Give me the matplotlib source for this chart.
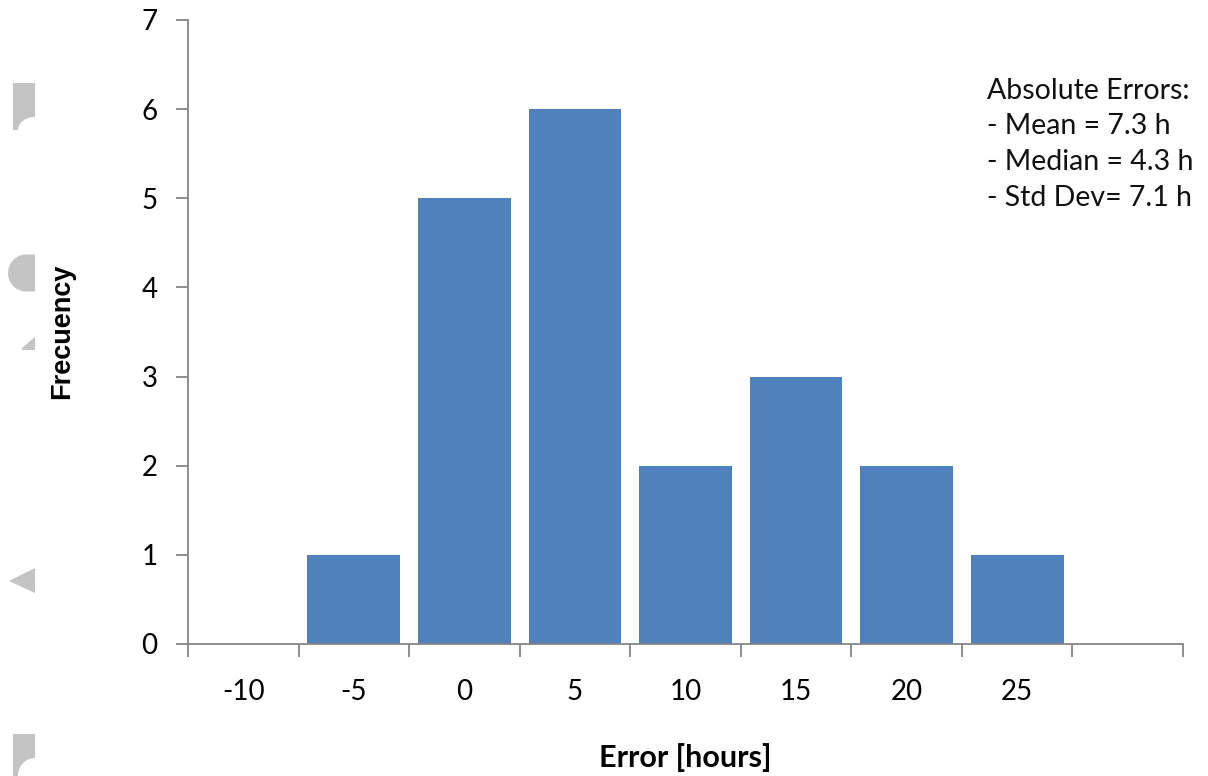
import numpy as np
import matplotlib
matplotlib.use("Agg")
import matplotlib.pyplot as plt
from matplotlib.patches import Polygon

# ---- data ----
categories = ["-10", "-5", "0", "5", "10", "15", "20", "25", ""]
frequency = [0, 1, 5, 6, 2, 3, 2, 1, 0]
y_ticks = [0, 1, 2, 3, 4, 5, 6, 7]
stats_lines = ["Absolute Errors:", "- Mean = 7.3 h", "- Median = 4.3 h", "- Std Dev= 7.1 h"]

W, H = 1208, 776
fig = plt.figure(figsize=(W / 100, H / 100), dpi=100)
fig.patch.set_facecolor("white")

def fx(px):
    return px / W

def fy(py):
    return 1 - py / H

ax = fig.add_axes([fx(188), fy(644), fx(1183) - fx(188), fy(20) - fy(644)])

axis_gray = "#868686"
bar_color = "#4F81BD"
font = "Lato"

x = np.arange(len(categories))
ax.bar(x, frequency, width=0.84, color=bar_color, zorder=2)

ax.set_xlim(-0.5, len(categories) - 0.5)
ax.set_ylim(0, 7)
ax.set_yticks(y_ticks)
ax.set_yticklabels([str(v) for v in y_ticks], fontfamily=font, fontsize=20)
ax.set_xticks(x)
ax.set_xticklabels(categories, fontfamily=font, fontsize=20)
ax.set_xticks(np.arange(-0.5, len(categories)), minor=True)

for s in ["top", "right"]:
    ax.spines[s].set_visible(False)
for s in ["left", "bottom"]:
    ax.spines[s].set_color(axis_gray)
    ax.spines[s].set_linewidth(1.3)

ax.tick_params(axis="y", direction="out", length=9, width=1.3, color=axis_gray, pad=13, labelcolor="black")
ax.tick_params(axis="x", which="major", length=0, pad=25, labelcolor="black")
ax.tick_params(axis="x", which="minor", direction="out", length=9, width=1.3, color=axis_gray)

# axis labels
fig.text(fx(62), fy(331), "Frecuency", rotation=90, ha="center", va="center",
         fontfamily="Liberation Sans", fontweight="bold", fontsize=19.5)
fig.text(fx(685), fy(758), "Error [hours]", ha="center", va="center",
         fontfamily=font, fontweight="bold", fontsize=22)

# stats annotation
for i, line in enumerate(stats_lines):
    fig.text(fx(987), fy(91 + 35.5 * i), line, ha="left", va="center",
             fontfamily=font, fontsize=20.5, color="#111111")

# decorative gray watermark fragments on the left edge
gray = "#c4c4c4"

def add_poly(pts):
    poly = Polygon([(fx(a), fy(b)) for a, b in pts], closed=True,
                   transform=fig.transFigure, facecolor=gray, edgecolor="none")
    fig.patches.append(poly)

def notched_rect(x0, x1, y0, y_right, y_left):
    r = y_left - y_right
    ang = np.linspace(np.pi / 2, np.pi, 20)
    cx, cy = x1, y_left
    rx = x1 - (x0 + 5)
    arc = [(cx + rx * np.cos(a), cy - r * np.sin(a)) for a in ang]
    pts = [(x0, y0), (x1, y0), (x1, y_right)] + arc + [(x0, y_left)]
    add_poly(pts)

notched_rect(13, 35, 83, 117, 130)
notched_rect(13, 35, 734, 758, 776)

# half disk
ang = np.linspace(np.pi / 2, 3 * np.pi / 2, 40)
disk = [(26 + 18 * np.cos(a), 273 - 18.5 * np.sin(a)) for a in ang]
add_poly([(35, 291.5), (35, 254.5)] + disk)
# small wedge
add_poly([(22, 348), (35, 337), (35, 350), (22, 350)])
# left-pointing triangle
add_poly([(9, 581), (35, 568), (35, 593)])

fig.savefig("out.png", dpi=100, facecolor="white")
